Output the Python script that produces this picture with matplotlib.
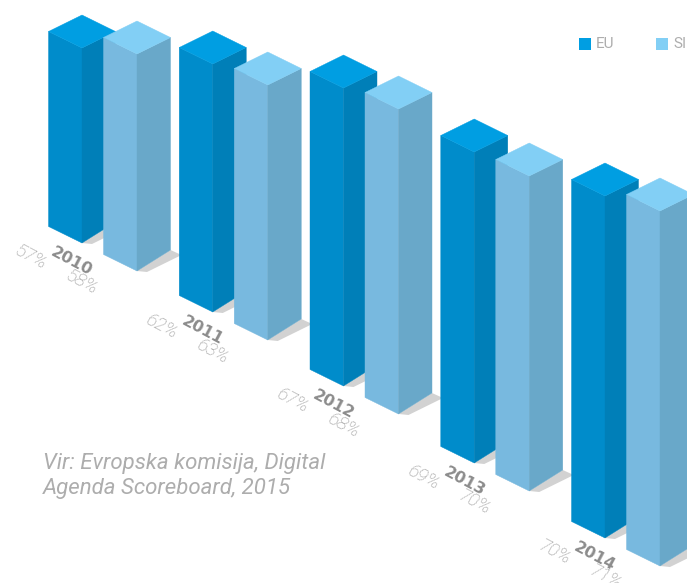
import matplotlib
matplotlib.use('Agg')
import matplotlib.pyplot as plt
from matplotlib.patches import Polygon, Rectangle

years = ['2010', '2011', '2012', '2013', '2014']
eu_pct = [57, 62, 67, 69, 70]
si_pct = [58, 63, 68, 70, 71]

# drawn bar heights (the original scale is not linear)
eu_height = [195, 248, 298, 311, 342]
si_height = [217, 255, 305, 315, 355]
# how far each year group has slid down the floor line
group_drop = [0, 69, 143, 220, 295]

source_text = 'Vir: Evropska komisija, Digital\nAgenda Scoreboard, 2015'

EU_COLORS = {'top': '#009ee2', 'left': '#008ccb', 'right': '#007fb8'}
SI_COLORS = {'top': '#82cff5', 'left': '#78b9df', 'right': '#69a8c9'}
SHADOW = '#d2d2d2'
TEXT_GREY = '#adadad'
PCT_GREY = '#969696'
YEAR_GREY = '#8c8c8c'

START_X, START_Y = 82, 243
GROUP_STEP = 130.75
SI_DX, SI_DY = 55, 28
HALF_W, HALF_H = 33.5, 16.5
ANGLE = -28


def draw_bar(ax, fx, base, height, colors):
    top = base - height
    # shadow on the floor, then the three faces
    ax.add_patch(Polygon([(fx, base), (fx + HALF_W, base - 21), (fx + HALF_W + 11, base - 16),
                          (fx + 10, base + 1)], fc=SHADOW, lw=0))
    ax.add_patch(Polygon([(fx - HALF_W, base - HALF_H), (fx, base), (fx, top),
                          (fx - HALF_W, top - HALF_H)], fc=colors['left'], ec=colors['left'], lw=0.3))
    ax.add_patch(Polygon([(fx, base), (fx + HALF_W, base - 21), (fx + HALF_W, top - HALF_H),
                          (fx, top)], fc=colors['right'], ec=colors['right'], lw=0.3))
    ax.add_patch(Polygon([(fx, top), (fx - HALF_W, top - HALF_H), (fx, top - 2 * HALF_H),
                          (fx + HALF_W, top - HALF_H)], fc=colors['top'], ec=colors['top'], lw=0.3))


fig = plt.figure(figsize=(6.87, 5.83), dpi=100)
ax = fig.add_axes([0, 0, 1, 1])
ax.set_xlim(0, 687)
ax.set_ylim(583, 0)
ax.axis('off')

for i, year in enumerate(years):
    fx = START_X + GROUP_STEP * i
    base = START_Y + group_drop[i]
    draw_bar(ax, fx, base, eu_height[i], EU_COLORS)
    draw_bar(ax, fx + SI_DX, base + SI_DY, si_height[i], SI_COLORS)

    ax.text(fx - 10, base + 18, year, rotation=ANGLE, rotation_mode='anchor', ha='center', va='center',
            family='DejaVu Sans', weight='bold', fontsize=11.5, color=YEAR_GREY)
    ax.text(fx - 51, base + 14, f'{eu_pct[i]}%', rotation=ANGLE, rotation_mode='anchor', ha='center',
            va='center', family='Roboto', weight='light', style='italic', fontsize=13.5, color=PCT_GREY)
    ax.text(fx, base + 39, f'{si_pct[i]}%', rotation=ANGLE, rotation_mode='anchor', ha='center',
            va='center', family='Roboto', weight='light', style='italic', fontsize=13.5, color=PCT_GREY)

# legend
ax.add_patch(Rectangle((579, 38), 12, 12, fc=EU_COLORS['top'], lw=0))
ax.text(596, 44.5, 'EU', ha='left', va='center', family='Roboto', fontsize=11, color=TEXT_GREY)
ax.add_patch(Rectangle((656, 38), 12, 12, fc=SI_COLORS['top'], lw=0))
ax.text(673, 44.5, 'SI', ha='left', va='center', family='Roboto', fontsize=11, color=TEXT_GREY)

ax.text(43, 476, source_text, ha='left', va='center', family='Roboto', style='italic', fontsize=16,
        color=TEXT_GREY, linespacing=1.25)

fig.savefig('out.png', dpi=100)
